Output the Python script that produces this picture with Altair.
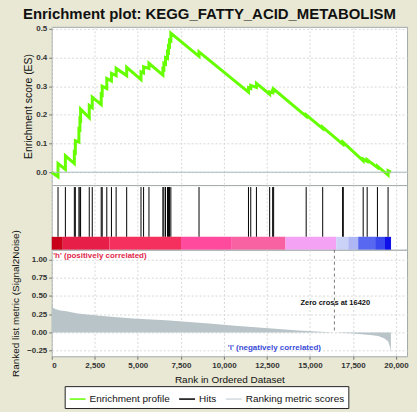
import altair as alt
import pandas as pd

FONT = "Liberation Sans"

# ---------------- data ----------------
hit_ranks = [364, 792, 1312, 1370, 1578, 1636, 1676, 2179, 2353, 2873, 2931, 3197, 3468, 3740,
             4353, 5185, 5335, 5647, 6456, 6514, 6607, 6723, 6780, 6838, 6919, 8555, 11428,
             11561, 11890, 12659, 12832, 12890, 14780, 15740, 16896, 16936, 18092, 18324,
             18919, 19538]
es_before = [-0.016, 0.010, 0.030, 0.068, 0.105, 0.148, 0.183, 0.190, 0.225, 0.236, 0.270, 0.292,
             0.318, 0.337, 0.337, 0.323, 0.346, 0.362, 0.339, 0.358, 0.377, 0.397, 0.418, 0.438,
             0.458, 0.404, 0.279, 0.292, 0.296, 0.272, 0.277, 0.284, 0.195, 0.152, 0.098, 0.100,
             0.040, 0.038, 0.016, -0.010]
es_after = [0.030, 0.057, 0.070, 0.110, 0.150, 0.185, 0.220, 0.233, 0.262, 0.272, 0.300, 0.327,
            0.345, 0.362, 0.366, 0.350, 0.368, 0.380, 0.360, 0.380, 0.400, 0.420, 0.440, 0.460,
            0.485, 0.420, 0.295, 0.303, 0.310, 0.280, 0.285, 0.290, 0.200, 0.157, 0.102, 0.104,
            0.046, 0.043, 0.021, 0.005]
n_genes_total = 19700

metric_ranks = [0, 50, 200, 500, 850, 1500, 2775, 4700, 6630, 9130, 10460, 12400, 14330,
                16420, 17500, 18500, 18960, 19300, 19540, 19650, 19700]
metric_values = [0.38, 0.34, 0.32, 0.30, 0.29, 0.26, 0.23, 0.19, 0.165, 0.123, 0.096, 0.06,
                 0.027, 0.0, -0.015, -0.035, -0.05, -0.08, -0.12, -0.20, -0.28]

bar_start = [0, 640, 3350, 7510, 10460, 13580, 16530, 17225, 17800, 18785, 19360]
bar_end = [640, 3350, 7510, 10460, 13580, 16530, 17225, 17800, 18785, 19360, 19710]
bar_colors = ["#C8001A", "#E61E48", "#F5305E", "#FF4A9E", "#F862A2", "#F4A2F4",
              "#CAD2F8", "#AEB6F4", "#5868F0", "#3A48F0", "#1010E8"]

zero_cross = 16420
x_ticks = [0, 2500, 5000, 7500, 10000, 12500, 15000, 17500, 20000]
es_ticks = [0.0, 0.1, 0.2, 0.3, 0.4, 0.5]
metric_ticks = [-0.25, 0.0, 0.25, 0.5, 0.75, 1.0]

legend_names = ["Enrichment profile", "Hits", "Ranking metric scores"]
legend_colors = ["#66FF00", "#000000", "#D4DADE"]

# ---------------- tables ----------------
es_rank = [0]
es_val = [0.0]
for r, b, a in zip(hit_ranks, es_before, es_after):
    es_rank += [r, r]
    es_val += [b, a]
es_rank.append(n_genes_total)
es_val.append(0.0)
es_df = pd.DataFrame({"rank": es_rank, "es": es_val, "order": list(range(len(es_rank)))})
hits_df = pd.DataFrame({"rank": hit_ranks, "lo": [0.2] * len(hit_ranks), "hi": [0.97] * len(hit_ranks)})
metric_df = pd.DataFrame({"rank": metric_ranks, "metric": metric_values,
                          "base": [0.0] * len(metric_ranks)})
bar_df = pd.DataFrame({"start": bar_start, "end": bar_end, "color": bar_colors,
                       "lo": [0.0] * len(bar_start), "hi": [0.2] * len(bar_start)})
legend_df = pd.DataFrame({"name": legend_names})

XDOM = [0, 20640]
W = 357
xscale = alt.Scale(domain=XDOM, nice=False, zero=False)

x_axis_plain = alt.Axis(values=x_ticks, grid=True, ticks=False, labels=False, title=None)
x_axis_labeled = alt.Axis(values=x_ticks, format=",d", title="Rank in Ordered Dataset",
                          grid=True, ticks=True, labels=True, titleFontSize=10,
                          titleFontWeight="normal", titleFont=FONT, titlePadding=5,
                          titleColor="#111", labelOverlap=False)

es_scale = alt.Scale(domain=[-0.045, 0.507], nice=False, zero=False)
es_axis = alt.Axis(values=es_ticks, format=".1f", title="Enrichment score (ES)",
                   titleFontSize=10.5, titleFontWeight="normal", titleFont=FONT,
                   titlePadding=2, titleColor="#111", labelOverlap=False)

m_scale = alt.Scale(domain=[-0.328, 1.134], nice=False, zero=False)
m_axis = alt.Axis(values=metric_ticks, format=".2f",
                  title="Ranked list metric (Signal2Noise)", titleFontSize=10,
                  titleFontWeight="normal", titleFont=FONT, titlePadding=6,
                  titleColor="#111", labelOverlap=False)

# ---------------- top panel: ES ----------------
es_line = alt.Chart(es_df).mark_line(color="#66FF00", strokeWidth=3).encode(
    x=alt.X("rank:Q", scale=xscale, axis=x_axis_plain),
    y=alt.Y("es:Q", scale=es_scale, axis=es_axis),
    order="order:Q",
)
zero_line = alt.Chart(pd.DataFrame({"es": [0.0]})).mark_rule(color="#A8B8B8", strokeWidth=1).encode(
    y=alt.Y("es:Q", scale=es_scale, axis=es_axis)
)
top = alt.layer(es_line, zero_line).properties(width=W, height=159)

# ---------------- middle panel: hits + colour bar ----------------
yband = alt.Scale(domain=[0, 1], nice=False, zero=False)
bar = alt.Chart(bar_df).mark_rect().encode(
    x=alt.X("start:Q", scale=xscale, axis=x_axis_plain),
    x2="end:Q",
    y=alt.Y("lo:Q", scale=yband, axis=None),
    y2="hi:Q",
    color=alt.Color("color:N", scale=None),
)
hits = alt.Chart(hits_df).mark_rule(color="black", strokeWidth=1).encode(
    x=alt.X("rank:Q", scale=xscale, axis=x_axis_plain),
    y=alt.Y("lo:Q", scale=yband, axis=None),
    y2="hi:Q",
)
middle = alt.layer(hits, bar).properties(width=W, height=65)

# ---------------- bottom panel: ranked metric ----------------
area = alt.Chart(metric_df).mark_area(color="#B8C4C8", interpolate="linear").encode(
    x=alt.X("rank:Q", scale=xscale, axis=x_axis_labeled),
    y=alt.Y("metric:Q", scale=m_scale, axis=m_axis),
    y2="base:Q",
)
zc_rule = alt.Chart(pd.DataFrame({"rank": [zero_cross], "metric": [1.134], "base": [0.0]})).mark_rule(
    color="#777", strokeDash=[3, 3], strokeWidth=1
).encode(
    x=alt.X("rank:Q", scale=xscale, axis=x_axis_labeled),
    y=alt.Y("metric:Q", scale=m_scale, axis=m_axis),
    y2="base:Q",
)


def note(rank, value, text, color, size):
    return alt.Chart(pd.DataFrame({"rank": [rank], "metric": [value], "t": [text]})).mark_text(
        align="left", baseline="middle", font=FONT, fontSize=size, fontWeight="bold", color=color
    ).encode(
        x=alt.X("rank:Q", scale=xscale, axis=x_axis_labeled),
        y=alt.Y("metric:Q", scale=m_scale, axis=m_axis),
        text="t:N",
    )


pos_text = note(80, 1.05, "'h' (positively correlated)", "#E0284A", 8)
neg_text = note(10230, -0.22, "'l' (negatively correlated)", "#3A4BD8", 8)
zc_text = note(14450, 0.40, "Zero cross at %d" % zero_cross, "#111", 7.5)

legend_layer = alt.Chart(legend_df).mark_point(opacity=0, filled=False).encode(
    x=alt.value(0),
    y=alt.value(0),
    color=alt.Color("name:N", scale=alt.Scale(domain=legend_names, range=legend_colors),
                    legend=alt.Legend(orient="none", legendX=13, legendY=361,
                                      direction="horizontal", title=None,
                                      fillColor="white", strokeColor="#222", padding=4,
                                      labelFont=FONT, labelFontSize=10, labelColor="#111",
                                      symbolType="stroke", symbolSize=256,
                                      symbolStrokeWidth=1.5, symbolOpacity=1,
                                      columnPadding=6, labelOffset=3)),
)

bottom = alt.layer(area, zc_rule, pos_text, neg_text, zc_text, legend_layer).properties(
    width=W, height=107
)

chart = alt.vconcat(top, middle, bottom, spacing=0, bounds="flush").properties(
    title=alt.TitleParams("Enrichment plot: KEGG_FATTY_ACID_METABOLISM", font=FONT,
                          fontSize=15, fontWeight="bold", anchor="middle", frame="bounds",
                          color="#111", offset=2),
    background="#E8E8D4",
    padding={"left": 10, "top": 6, "right": 8, "bottom": 2},
).configure_view(
    fill="white", stroke="#A0A8A8", strokeWidth=1
).configure_axis(
    labelFont=FONT, labelFontSize=8, labelFontWeight="bold", labelColor="#333",
    tickColor="#777", tickSize=3, labelPadding=2, domain=False,
    gridColor="#D8D8D8", gridDash=[2, 2], gridWidth=1
)

chart.save("out.html", embed_options={"renderer": "svg", "actions": False})
